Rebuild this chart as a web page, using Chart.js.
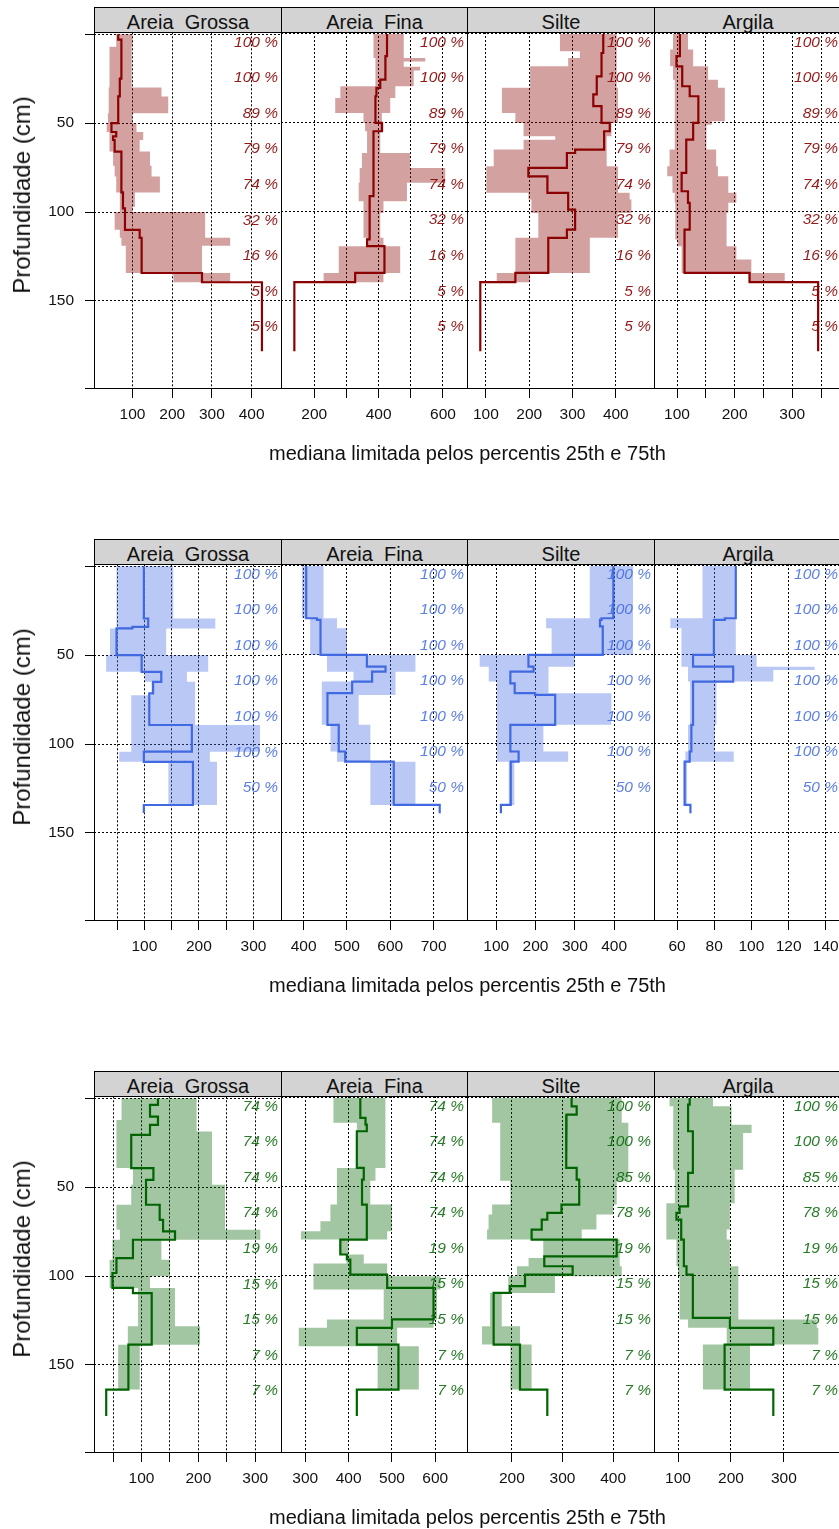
<!DOCTYPE html>
<html>
<head>
<meta charset="utf-8">
<script src="https://cdn.jsdelivr.net/npm/chart.js@4.4.1/dist/chart.umd.min.js"></script>
<style>
  body { margin: 0; background: #fff; }
  #page { position: relative; width: 839px; height: 1529px; overflow: hidden; font-family: "Liberation Sans", Arial, sans-serif; color: #111; }
  .strip { position: absolute; height: 26px; box-sizing: border-box; border: 1px solid #000; background: #d3d3d3;
           text-align: center; font-size: 20px; line-height: 29px; white-space: pre; }
  .xlab { position: absolute; left: 94px; width: 747px; text-align: center; font-size: 20px; line-height: 24px; }
  .ylab { position: absolute; left: 22px; font-size: 24px; white-space: nowrap; transform: translate(-50%, -50%) rotate(-90deg); }
  canvas { position: absolute; }
</style>
</head>
<body>
<div id="page"></div>
<script>
// shared depth axis (cm)
const depthTicks = [0, 50, 100, 150, 199];
const depthTickLabels = [50, 100, 150];
const pctDepths = [0, 20, 40, 60, 80, 100, 120, 140, 160];
const props = ['Areia  Grossa', 'Areia  Fina', 'Silte', 'Argila'];

// ---- group 1 (dark red) ----
const g1_pct = [100, 100, 89, 79, 74, 32, 16, 5, 5];
const g1_ag_medD = [0, 3, 25, 35, 50, 55, 57.5, 59.5, 66, 89, 98, 110, 114.5, 134.3, 139.5, 178.3];
const g1_ag_med  = [64, 72, 68, 64, 47, 59, 51, 55, 72, 76, 81, 118, 123, 275, 426];
const g1_ag_bandD = [0, 7, 30, 35, 44.5, 50, 55, 59.5, 66, 74, 80, 89, 97, 100, 110, 114.5, 119, 134.3, 139.5];
const g1_ag_p25 = [59, 42, 40, 40, 38, 35, 42, 42, 51, 55, 59, 68, 68, 55, 68, 72, 83, 203];
const g1_ag_p75 = [100, 98, 173, 190, 100, 110, 127, 118, 144, 148, 169, 106, 100, 283, 283, 346, 275, 346];

const g1_af_medD = [0, 12.5, 25.7, 30.3, 35, 50, 54.7, 91.2, 115.5, 119.3, 134.3, 139.5, 178.3];
const g1_af_med  = [426, 421, 405, 393, 390, 410, 384, 372, 364, 418, 327, 138];
const g1_af_bandD = [0, 13.5, 15.5, 18.5, 20.5, 29.4, 36, 44.4, 50, 54.7, 66.9, 75.3, 83.7, 94, 100.6, 114.6, 119.3, 134.3, 139.5];
const g1_af_p25 = [384, 390, 390, 390, 390, 281, 265, 353, 358, 364, 348, 341, 338, 353, 353, 364, 276, 229];
const g1_af_p75 = [478, 545, 478, 529, 509, 452, 436, 410, 415, 405, 498, 607, 488, 415, 405, 415, 467, 415];

const g1_si_medD = [0, 10.7, 23.8, 34, 40.6, 50, 54.7, 65, 66.9, 75.3, 80, 89.3, 98.7, 110, 114.6, 134.3, 139.5, 178.3];
const g1_si_med  = [371, 367, 356, 348, 367, 386, 373, 306, 287, 198, 242, 290, 306, 287, 244, 168, 87];
const g1_si_bandD = [0, 9.7, 13.5, 18.2, 30.3, 44.4, 50, 57.5, 59.4, 65, 74.3, 89.3, 93, 100.6, 114.6, 134.3, 139.5];
const g1_si_p25 = [271, 317, 290, 202, 137, 168, 187, 260, 187, 118, 101, 198, 205, 221, 168, 125];
const g1_si_p75 = [402, 402, 402, 402, 405, 405, 390, 379, 379, 379, 405, 432, 436, 405, 340, 202];

const g1_ar_medD = [0, 12.5, 18.2, 29.4, 35, 50, 59.4, 78.1, 88.4, 94.9, 110, 134.3, 139.5, 178.3];
const g1_ar_med  = [105, 99, 109, 122, 137, 128, 116, 108, 119, 122, 113, 226, 345];
const g1_ar_bandD = [0, 8.8, 18.2, 25.7, 30.3, 49, 51, 65, 74.3, 80, 89.3, 94.9, 100.6, 115.5, 119.3, 126.8, 134.3, 139.5];
const g1_ar_p25 = [93, 88, 93, 96, 96, 96, 96, 87, 83, 92, 96, 97, 97, 101, 108, 108, 224];
const g1_ar_p75 = [119, 128, 154, 171, 183, 160, 151, 168, 171, 189, 203, 189, 186, 186, 203, 229, 287];

// ---- group 2 (blue) ----
const g2_pct = [100, 100, 100, 100, 100, 100, 50];
const g2_ag_medD = [0, 29.4, 34.1, 35, 50, 59.4, 65, 71.5, 89.3, 104.3, 110, 134.3, 138.8];
const g2_ag_med  = [99, 107, 78, 49, 95, 131, 116, 109, 187, 99, 189, 99];
const g2_ag_bandD = [0, 29.4, 35, 50, 59.4, 65, 72.5, 89.3, 104.3, 110, 134.3];
const g2_ag_p25 = [49, 49, 37, 30, 101, 113, 76, 76, 54, 144];
const g2_ag_p75 = [153, 230, 140, 217, 178, 193, 193, 312, 220, 233];

const g2_af_medD = [0, 29.4, 30.3, 50, 56.6, 59.4, 65, 71.5, 89.3, 104.3, 110, 134.3, 139];
const g2_af_med  = [406, 431, 439, 546, 589, 558, 512, 455, 481, 496, 608, 714];
const g2_af_bandD = [0, 29.4, 35, 50, 59.4, 65, 72.5, 89.3, 104.3, 110, 134.3];
const g2_af_p25 = [396, 415, 415, 454, 515, 442, 442, 462, 477, 554];
const g2_af_p75 = [446, 477, 500, 658, 612, 612, 527, 554, 554, 658];

const g2_si_medD = [0, 29.4, 30.3, 34, 50, 56.6, 59.4, 66, 71.5, 72.5, 89.3, 104.3, 110, 134.3, 139];
const g2_si_med  = [398, 368, 364, 371, 182, 195, 136, 147, 199, 250, 136, 157, 137, 112];
const g2_si_bandD = [0, 29.4, 35, 50, 56.6, 65, 71.5, 89.3, 104.3, 110, 134.3];
const g2_si_p25 = [338, 227, 241, 58, 81, 101, 102, 102, 102, 132];
const g2_si_p75 = [448, 448, 448, 300, 233, 233, 393, 220, 283, 146];

const g2_ar_medD = [0, 29.4, 30.3, 50, 56.6, 65, 89.3, 104.3, 110, 134.3, 139];
const g2_ar_med  = [91.6, 85.7, 79.8, 68.6, 90.2, 68.6, 67.7, 66.8, 64.1, 67.2];
const g2_ar_bandD = [0, 29.4, 35, 50, 56.6, 58.5, 65, 89.3, 104.3, 110, 134.3];
const g2_ar_p25 = [73.7, 56.4, 62.3, 62.5, 65.9, 65.9, 67, 65.9, 64.5, 63.5];
const g2_ar_p75 = [91.6, 91.6, 91.6, 102.8, 134, 111.8, 81.2, 80.3, 90.5, 65.4];

// ---- group 3 (green) ----
const g3_pctSand = [74, 74, 74, 74, 19, 15, 15, 7, 7];
const g3_pctFine = [100, 100, 85, 78, 19, 15, 15, 7, 7];
const g3_ag_medD = [0, 3.7, 10.3, 15, 20.6, 39.3, 45.9, 59.9, 68.4, 74.9, 79.6, 89.9, 98.3, 106.7, 109.6, 138.6, 163.9, 178.8];
const g3_ag_med  = [129, 115, 129, 115, 82, 121, 108, 132, 138, 159, 85, 56, 49, 85, 118, 77, 38];
const g3_ag_bandD = [0, 12.2, 18.7, 39.3, 48.7, 59.9, 74, 79.6, 90.8, 100.2, 106.7, 128.3, 138.6, 163.9];
const g3_ag_p25 = [65, 56, 56, 85, 82, 56, 62, 49, 44, 44, 94, 76, 59];
const g3_ag_p75 = [197, 197, 224, 224, 247, 247, 309, 135, 150, 115, 159, 203, 97];

const g3_af_medD = [0, 11.2, 15, 18.7, 39.3, 45.9, 59.9, 79.6, 88, 90.8, 99.3, 106.7, 124.5, 129.2, 138.6, 163.9, 178.8];
const g3_af_med  = [427, 439, 442, 419, 435, 431, 442, 381, 396, 404, 489, 596, 500, 419, 515, 419];
const g3_af_bandD = [0, 14, 39.3, 46.6, 59.9, 69.3, 74.9, 79.6, 88, 93.1, 100.2, 107.7, 124.5, 129.2, 139.5, 163.9];
const g3_af_p25 = [365, 419, 373, 373, 358, 335, 290, 378, 395, 319, 319, 481, 350, 285, 467];
const g3_af_p75 = [485, 485, 462, 450, 500, 500, 489, 400, 435, 489, 612, 604, 596, 512, 562];

const g3_si_medD = [0, 4.7, 9.4, 15, 39.3, 45.9, 59.9, 64.6, 68.4, 74, 79.6, 89, 94.6, 99.3, 105.8, 109.6, 138.6, 163.9, 178.8];
const g3_si_med  = [318, 328, 308, 307, 328, 333, 298, 270, 259, 239, 407, 264, 320, 226, 196, 164, 216, 270];
const g3_si_bandD = [0, 14, 46.6, 59.9, 65.5, 74, 79.6, 89.9, 94.6, 100.2, 109.6, 128.3, 138.6, 163.9];
const g3_si_p25 = [161, 177, 197, 161, 154, 151, 262, 233, 210, 193, 157, 141, 197];
const g3_si_p75 = [417, 430, 407, 400, 367, 338, 413, 413, 417, 285, 180, 216, 239];

const g3_ar_medD = [0, 3.7, 18.7, 42.1, 60.9, 64.6, 68.4, 79.6, 94.6, 99.3, 123.6, 129.2, 138.6, 163.9, 178.8];
const g3_ar_med  = [122, 119, 128, 119, 103, 97, 106, 111, 116, 128, 198, 280, 188, 280];
const g3_ar_bandD = [0, 4.7, 15, 19.7, 40.4, 59.2, 74, 79.6, 94.6, 100.2, 124.5, 129.2, 138.6, 163.9];
const g3_ar_p25 = [84, 91, 91, 91, 94, 78, 78, 97, 100, 103, 119, 192, 147];
const g3_ar_p75 = [166, 201, 239, 223, 207, 198, 192, 198, 214, 214, 362, 365, 236];

// x tick values and the ones that carry a label
const g1_ag_ticks = [100, 200, 300, 400];
const g1_af_ticks = [200, 300, 400, 500, 600], g1_af_labels = [200, 400, 600];
const g1_si_ticks = [100, 200, 300, 400];
const g1_ar_ticks = [100, 150, 200, 250, 300, 350], g1_ar_labels = [100, 200, 300];
const g2_ag_ticks = [50, 100, 150, 200, 250, 300], g2_ag_labels = [100, 200, 300];
const g2_af_ticks = [400, 500, 600, 700];
const g2_si_ticks = [100, 200, 300, 400];
const g2_ar_ticks = [60, 80, 100, 120, 140];
const g3_ag_ticks = [50, 100, 150, 200, 250, 300], g3_ag_labels = [100, 200, 300];
const g3_af_ticks = [300, 400, 500, 600];
const g3_si_ticks = [200, 300, 400];
const g3_ar_ticks = [100, 200, 300];

const groups = [
  { line: '#8b0000', fill: 'rgba(139,0,0,0.37)', text: 'rgba(139,0,0,0.9)', panels: [
    { medD: g1_ag_medD, med: g1_ag_med, bandD: g1_ag_bandD, p25: g1_ag_p25, p75: g1_ag_p75, pct: g1_pct, ticks: g1_ag_ticks, labels: g1_ag_ticks, min: 3, max: 474 },
    { medD: g1_af_medD, med: g1_af_med, bandD: g1_af_bandD, p25: g1_af_p25, p75: g1_af_p75, pct: g1_pct, ticks: g1_af_ticks, labels: g1_af_labels, min: 96.5, max: 674.6 },
    { medD: g1_si_medD, med: g1_si_med, bandD: g1_si_bandD, p25: g1_si_p25, p75: g1_si_p75, pct: g1_pct, ticks: g1_si_ticks, labels: g1_si_ticks, min: 56.3, max: 488.2 },
    { medD: g1_ar_medD, med: g1_ar_med, bandD: g1_ar_bandD, p25: g1_ar_p25, p75: g1_ar_p75, pct: g1_pct, ticks: g1_ar_ticks, labels: g1_ar_labels, min: 60, max: 384.7 }
  ]},
  { line: '#4169e1', fill: 'rgba(65,105,225,0.37)', text: 'rgba(65,105,225,0.85)', panels: [
    { medD: g2_ag_medD, med: g2_ag_med, bandD: g2_ag_bandD, p25: g2_ag_p25, p75: g2_ag_p75, pct: g2_pct, ticks: g2_ag_ticks, labels: g2_ag_labels, min: 7.7, max: 350.4 },
    { medD: g2_af_medD, med: g2_af_med, bandD: g2_af_bandD, p25: g2_af_p25, p75: g2_af_p75, pct: g2_pct, ticks: g2_af_ticks, labels: g2_af_ticks, min: 347.8, max: 777 },
    { medD: g2_si_medD, med: g2_si_med, bandD: g2_si_bandD, p25: g2_si_p25, p75: g2_si_p75, pct: g2_pct, ticks: g2_si_ticks, labels: g2_si_ticks, min: 25.7, max: 501.4 },
    { medD: g2_ar_medD, med: g2_ar_med, bandD: g2_ar_bandD, p25: g2_ar_p25, p75: g2_ar_p75, pct: g2_pct, ticks: g2_ar_ticks, labels: g2_ar_ticks, min: 47.6, max: 148.2 }
  ]},
  { line: '#006400', fill: 'rgba(0,100,0,0.37)', text: 'rgba(0,100,0,0.85)', panels: [
    { medD: g3_ag_medD, med: g3_ag_med, bandD: g3_ag_bandD, p25: g3_ag_p25, p75: g3_ag_p75, pct: g3_pctSand, ticks: g3_ag_ticks, labels: g3_ag_labels, min: 16.5, max: 345.4 },
    { medD: g3_af_medD, med: g3_af_med, bandD: g3_af_bandD, p25: g3_af_p25, p75: g3_af_p75, pct: g3_pctSand, ticks: g3_af_ticks, labels: g3_af_ticks, min: 244, max: 673.2 },
    { medD: g3_si_medD, med: g3_si_med, bandD: g3_si_bandD, p25: g3_si_p25, p75: g3_si_p75, pct: g3_pctFine, ticks: g3_si_ticks, labels: g3_si_ticks, min: 111.4, max: 480.7 },
    { medD: g3_ar_medD, med: g3_ar_med, bandD: g3_ar_bandD, p25: g3_ar_p25, p75: g3_ar_p75, pct: g3_pctFine, ticks: g3_ar_ticks, labels: g3_ar_ticks, min: 54.6, max: 407.9 }
  ]}
];

// layout
const L = [94, 281, 467, 654];
const W = [187, 186, 187, 187];
const rowTops = [32, 564, 1096];
const PLOT_H = 356, PAD = 20, XAXIS_H = 60;
const FONT = '"Liberation Sans", Arial, sans-serif';

Chart.defaults.font.family = FONT;

// step profile: value v[i] holds from depth d[i] to d[i+1]
function steps(d, v) {
  const pts = [];
  for (let i = 0; i < v.length; i++) {
    pts.push({ x: v[i], y: d[i] }, { x: v[i], y: d[i + 1] });
  }
  return pts;
}
// closed outline: down the 75th percentile, back up the 25th
function band(d, lo, hi) {
  return steps(d, hi).concat(steps(d, lo).reverse());
}

// percent labels and panel frame
const panelPlugin = {
  id: 'panel',
  afterDatasetsDraw(chart, args, opts) {
    const { ctx, chartArea: a } = chart;
    const y = chart.scales.y;
    ctx.save();
    ctx.font = 'italic 15.5px ' + FONT;
    ctx.fillStyle = opts.color;
    ctx.textAlign = 'right';
    ctx.textBaseline = 'top';
    opts.pct.forEach((v, i) => {
      ctx.fillText(v + ' %', a.right - 3, y.getPixelForValue(pctDepths[i]) + 0.5);
    });
    ctx.strokeStyle = '#000';
    ctx.lineWidth = 1;
    ctx.strokeRect(Math.round(a.left) + 0.5, Math.round(a.top) + 0.5,
                   Math.round(a.right - a.left), Math.round(a.bottom - a.top));
    ctx.restore();
  }
};

const page = document.getElementById('page');

groups.forEach((g, r) => {
  const top = rowTops[r];

  g.panels.forEach((p, c) => {
    const strip = document.createElement('div');
    strip.className = 'strip';
    strip.textContent = props[c];
    strip.style.left = L[c] + 'px';
    strip.style.top = (top - 25) + 'px';
    strip.style.width = (W[c] + 1) + 'px';
    page.appendChild(strip);

    const first = c === 0;
    const cv = document.createElement('canvas');
    const left = first ? 0 : L[c] - PAD;
    cv.width = first ? L[0] + W[0] + PAD : W[c] + 2 * PAD;
    cv.height = PAD + PLOT_H + XAXIS_H;
    cv.style.left = left + 'px';
    cv.style.top = (top - PAD) + 'px';
    page.appendChild(cv);

    new Chart(cv, {
      type: 'scatter',
      data: {
        datasets: [
          { data: steps(p.medD, p.med), showLine: true, borderColor: g.line, borderWidth: 2.2,
            borderJoinStyle: 'miter', pointRadius: 0, fill: false, order: 0 },
          { data: band(p.bandD, p.p25, p.p75), showLine: true, borderWidth: 0,
            borderColor: 'rgba(0,0,0,0)', backgroundColor: g.fill, pointRadius: 0, fill: 'shape', order: 1 }
        ]
      },
      options: {
        responsive: false,
        animation: false,
        events: [],
        layout: { padding: { left: first ? 0 : PAD, right: PAD, top: PAD, bottom: 0 } },
        plugins: {
          legend: { display: false },
          tooltip: { enabled: false },
          panel: { pct: p.pct, color: g.text }
        },
        scales: {
          x: {
            type: 'linear', min: p.min, max: p.max,
            afterBuildTicks: s => { s.ticks = p.ticks.map(v => ({ value: v })); },
            afterFit: s => { s.height = XAXIS_H; },
            ticks: {
              autoSkip: false, maxRotation: 0, padding: 7, color: '#111',
              font: { size: 15.5 },
              callback: v => p.labels.includes(v) ? String(v) : ''
            },
            grid: { color: '#000', lineWidth: 1, tickLength: 10, tickColor: '#000', tickBorderDash: [10, 0] },
            border: { display: false, dash: [2, 2] }
          },
          y: {
            type: 'linear', reverse: true, min: -1.1, max: 199,
            afterBuildTicks: s => { s.ticks = depthTicks.map(v => ({ value: v })); },
            afterFit: s => { s.width = first ? L[0] : 0; },
            ticks: {
              display: first, padding: 11, color: '#111',
              font: { size: 15.5 },
              callback: v => depthTickLabels.includes(v) ? String(v) : ''
            },
            grid: { color: '#000', lineWidth: 1, drawTicks: first, tickLength: 9, tickColor: '#000', tickBorderDash: [10, 0] },
            border: { display: false, dash: [2, 2] }
          }
        }
      },
      plugins: [panelPlugin]
    });
  });

  const xl = document.createElement('div');
  xl.className = 'xlab';
  xl.textContent = 'mediana limitada pelos percentis 25th e 75th';
  xl.style.top = (top + PLOT_H + 65 - 12) + 'px';
  page.appendChild(xl);

  const yl = document.createElement('div');
  yl.className = 'ylab';
  yl.textContent = 'Profundidade (cm)';
  yl.style.top = (top + 163) + 'px';
  page.appendChild(yl);
});
</script>
</body>
</html>
